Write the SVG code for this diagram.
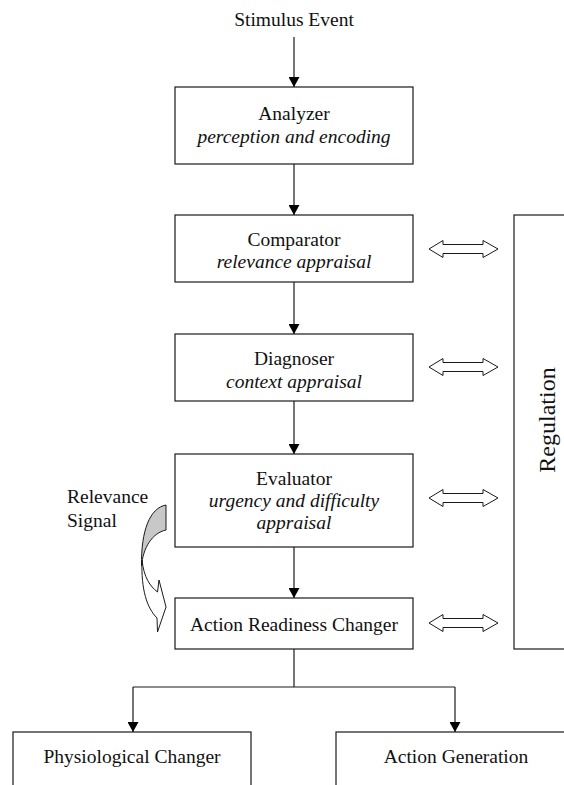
<svg xmlns="http://www.w3.org/2000/svg" width="564" height="785" viewBox="0 0 564 785">
  <style>
    .box { fill: #ffffff; stroke: #1a1a1a; stroke-width: 1.2; }
    .lbl { font-family: 'Liberation Serif', 'DejaVu Serif', serif; font-size: 19.5px; fill: #111; text-anchor: middle; }
    .it { font-style: italic; }
    .conn { fill: none; stroke: #1a1a1a; stroke-width: 1.2; }
    .dbl { fill: #ffffff; stroke: #1a1a1a; stroke-width: 1; stroke-linejoin: miter; }
  </style>
  <defs>
    <marker id="ah" markerUnits="userSpaceOnUse" markerWidth="12" markerHeight="11" refX="10" refY="5.5" orient="auto">
      <path d="M0,0 L10,5.5 L0,11 Z" fill="#000"/>
    </marker>
    <path id="dblArrow" class="dbl" d="M0,0 L14,-8.5 L14,-4.5 L54,-4.5 L54,-8.5 L69,0 L54,8.5 L54,4.5 L14,4.5 L14,8.5 Z"/>
  </defs>

  <rect width="564" height="785" fill="#ffffff"/>

  <!-- connectors -->
  <g id="connectors">
    <path class="conn" d="M294,37 V87" marker-end="url(#ah)"/>
    <path class="conn" d="M294,164 V215" marker-end="url(#ah)"/>
    <path class="conn" d="M294,282 V334" marker-end="url(#ah)"/>
    <path class="conn" d="M294,401 V454" marker-end="url(#ah)"/>
    <path class="conn" d="M294,547 V598" marker-end="url(#ah)"/>
    <path class="conn" d="M294,649 V687"/>
    <path class="conn" d="M133,687 H455"/>
    <path class="conn" d="M133,687 V732" marker-end="url(#ah)"/>
    <path class="conn" d="M455,687 V732" marker-end="url(#ah)"/>
    <!-- two-way links to the regulation block -->
    <use href="#dblArrow" x="429" y="249"/>
    <use href="#dblArrow" x="429" y="367"/>
    <use href="#dblArrow" x="429" y="498"/>
    <use href="#dblArrow" x="429" y="623"/>
    <!-- relevance signal curved arrow -->
    <g id="relevance-arrow">
      <path d="M142,560 C141,590 147,608 157,618 L157.5,632 L166,607 L159,580 L157.5,592 C150,586 144,578 142,560 Z" fill="#ffffff" stroke="#1a1a1a" stroke-width="1"/>
      <path d="M166,505 C150,508 141,530 141.5,566 C143,548 152,533 166,530 Z" fill="#c8c8c8" stroke="#1a1a1a" stroke-width="1"/>
    </g>
  </g>

  <g id="stimulus">
    <text class="lbl" x="294" y="26">Stimulus Event</text>
  </g>

  <g id="analyzer">
    <rect class="box" x="175" y="87" width="238" height="77"/>
    <text class="lbl" x="294" y="120">Analyzer</text>
    <text class="lbl it" x="294" y="143">perception and encoding</text>
  </g>

  <g id="comparator">
    <rect class="box" x="175" y="215" width="238" height="67"/>
    <text class="lbl" x="294" y="246">Comparator</text>
    <text class="lbl it" x="294" y="268">relevance appraisal</text>
  </g>

  <g id="diagnoser">
    <rect class="box" x="175" y="334" width="238" height="67"/>
    <text class="lbl" x="294" y="365">Diagnoser</text>
    <text class="lbl it" x="294" y="388">context appraisal</text>
  </g>

  <g id="evaluator">
    <rect class="box" x="175" y="454" width="238" height="93"/>
    <text class="lbl" x="294" y="485">Evaluator</text>
    <text class="lbl it" x="294" y="507">urgency and difficulty</text>
    <text class="lbl it" x="294" y="529">appraisal</text>
  </g>

  <g id="action-readiness-changer">
    <rect class="box" x="175" y="598" width="238" height="51"/>
    <text class="lbl" x="294" y="631">Action Readiness Changer</text>
  </g>

  <g id="regulation">
    <rect class="box" x="514" y="215" width="90" height="434"/>
    <text class="lbl" x="555" y="420" style="font-size:24px" transform="rotate(-90 555 420)">Regulation</text>
  </g>

  <g id="relevance-signal">
    <text class="lbl" x="67" y="503" style="text-anchor:start">Relevance</text>
    <text class="lbl" x="67" y="527" style="text-anchor:start">Signal</text>
  </g>

  <g id="physiological-changer">
    <rect class="box" x="13" y="732" width="238" height="70"/>
    <text class="lbl" x="132" y="763">Physiological Changer</text>
  </g>

  <g id="action-generation">
    <rect class="box" x="336" y="732" width="240" height="70"/>
    <text class="lbl" x="456" y="763">Action Generation</text>
  </g>
</svg>
